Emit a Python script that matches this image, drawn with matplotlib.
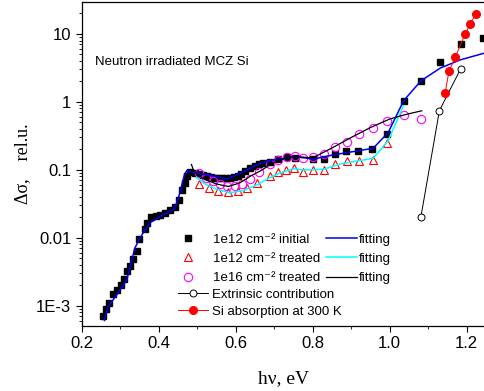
# Photoconductivity spectra of neutron irradiated MCZ Si with fits, extrinsic part and Si absorption
import numpy as np
import matplotlib; matplotlib.use("Agg")
import matplotlib.pyplot as plt
from matplotlib.lines import Line2D
from matplotlib.ticker import FixedLocator, LogLocator, NullFormatter, MultipleLocator

plt.rcParams["font.family"] = ["Liberation Sans", "DejaVu Sans"]

# 1e12 cm-2 initial (squares) and its fit
init_x = [0.256, 0.263, 0.271, 0.282, 0.292, 0.301, 0.310, 0.317, 0.325, 0.334, 0.344, 0.350,
          0.365, 0.369, 0.381, 0.393, 0.403, 0.416, 0.429, 0.442, 0.452, 0.460, 0.468, 0.473,
          0.481, 0.495, 0.505, 0.515, 0.525, 0.535, 0.545, 0.555, 0.565, 0.575, 0.585, 0.595,
          0.605, 0.615, 0.625, 0.637, 0.650, 0.660, 0.672, 0.689, 0.711, 0.732, 0.754, 0.802,
          0.828, 0.858, 0.886, 0.918, 0.953, 0.994, 1.036, 1.081, 1.131, 1.184, 1.242]
init_y = [7.2e-4, 8.9e-4, 1.1e-3, 1.5e-3, 1.7e-3, 2.0e-3, 2.5e-3, 3.2e-3, 3.9e-3, 4.9e-3, 6.5e-3, 9.5e-3,
          0.0135, 0.0165, 0.020, 0.0213, 0.0218, 0.0235, 0.026, 0.028, 0.036, 0.051, 0.064, 0.080,
          0.093, 0.090, 0.087, 0.084, 0.081, 0.079, 0.077, 0.076, 0.075, 0.075, 0.076, 0.078,
          0.082, 0.088, 0.096, 0.108, 0.115, 0.120, 0.126, 0.131, 0.144, 0.155, 0.148, 0.144,
          0.144, 0.170, 0.190, 0.190, 0.200, 0.335, 1.04, 2.04, 3.84, 7.2, 8.8]
fit_init_x = [0.259, 0.269, 0.291, 0.317, 0.325, 0.338, 0.356, 0.377, 0.403, 0.441, 0.451, 0.460,
              0.467, 0.473, 0.480, 0.490, 0.516, 0.550, 0.576, 0.611, 0.655, 0.689, 0.715, 0.748,
              0.802, 0.853, 0.957, 0.996, 1.036, 1.081, 1.131, 1.183, 1.250]
fit_init_y = [6.1e-4, 9.8e-4, 1.45e-3, 2.4e-3, 3.6e-3, 7.1e-3, 0.011, 0.0166, 0.0206, 0.0267, 0.0384, 0.060,
              0.085, 0.098, 0.095, 0.091, 0.086, 0.080, 0.073, 0.089, 0.119, 0.137, 0.143, 0.158,
              0.144, 0.166, 0.208, 0.354, 1.04, 2.04, 3.14, 4.15, 5.3]

# 1e12 cm-2 treated (triangles) and its fit
trt12_x = [0.505, 0.530, 0.555, 0.580, 0.605, 0.630, 0.655, 0.689, 0.711, 0.731, 0.752, 0.776,
           0.802, 0.828, 0.858, 0.888, 0.921, 0.956, 0.994]
trt12_y = [0.062, 0.054, 0.049, 0.047, 0.049, 0.055, 0.064, 0.080, 0.094, 0.100, 0.106, 0.094,
           0.100, 0.100, 0.120, 0.135, 0.136, 0.140, 0.245]
fit12_x = [0.498, 0.520, 0.550, 0.585, 0.620, 0.655, 0.685, 0.715, 0.750, 0.776, 0.828, 0.871,
           0.957, 0.996, 1.035]
fit12_y = [0.078, 0.062, 0.052, 0.046, 0.050, 0.060, 0.075, 0.090, 0.104, 0.100, 0.102, 0.122,
           0.148, 0.270, 0.870]

# 1e16 cm-2 treated (circles) and its fit
trt16_x = [0.505, 0.522, 0.540, 0.558, 0.577, 0.597, 0.617, 0.637, 0.660, 0.689, 0.711, 0.732,
           0.754, 0.776, 0.802, 0.828, 0.858, 0.888, 0.921, 0.956, 0.994, 1.036, 1.081]
trt16_y = [0.090, 0.077, 0.068, 0.061, 0.057, 0.057, 0.063, 0.074, 0.093, 0.120, 0.138, 0.155,
           0.162, 0.149, 0.157, 0.172, 0.220, 0.260, 0.335, 0.420, 0.530, 0.640, 0.560]
fit16_x = [0.485, 0.490, 0.500, 0.520, 0.550, 0.580, 0.610, 0.640, 0.665, 0.690, 0.710, 0.750,
           0.800, 0.850, 0.900, 0.950, 1.000, 1.040, 1.083]
fit16_y = [0.120, 0.100, 0.085, 0.072, 0.062, 0.057, 0.064, 0.082, 0.097, 0.120, 0.138, 0.158,
           0.150, 0.210, 0.300, 0.420, 0.560, 0.650, 0.740]

# extrinsic contribution and Si absorption at 300 K
ext_x = [1.081, 1.129, 1.184]
ext_y = [0.0204, 0.745, 3.05]
si_x = [1.144, 1.154, 1.170, 1.196, 1.209, 1.224]
si_y = [1.37, 2.86, 4.54, 10.0, 14.0, 19.7]

ytick_vals = [1e-3, 1e-2, 1e-1, 1, 10]
ytick_labels = ["1E-3", "0.01", "0.1", "1", "10"]

fig = plt.figure(figsize=(4.84, 3.91), dpi=100)
ax = fig.add_axes([81.7/484, 1-325.7/391, 404.3/484, 323.7/391])

sq = dict(ls="none", marker="s", ms=5, color="black")
tri = dict(ls="none", marker="^", ms=6, mfc="none", mec="red", mew=0.8)
circ = dict(ls="none", marker="o", ms=6, mfc="none", mec="magenta", mew=0.8)
ext = dict(color="black", lw=0.7, marker="o", ms=5, mfc="white", mec="black", mew=0.7)
si = dict(color="red", lw=0.7, marker="o", ms=5.5, mfc="red", mec="red")

ax.plot(init_x, init_y, zorder=3, **sq)
ax.plot(trt12_x, trt12_y, zorder=3, **tri)
ax.plot(trt16_x, trt16_y, zorder=3, **circ)
ax.plot(fit_init_x, fit_init_y, color="#0000ee", lw=1.1, zorder=4)
ax.plot(fit12_x, fit12_y, color="cyan", lw=1.1, zorder=4)
ax.plot(fit16_x, fit16_y, color="black", lw=0.9, zorder=4)
ax.plot(ext_x, ext_y, zorder=5, **ext)
ax.plot(si_x, si_y, zorder=5, **si)

ax.set_yscale("log")
ax.set_xlim(0.2, 1.25)
ax.set_ylim(5.1e-4, 29.5)
ax.yaxis.set_major_locator(FixedLocator(ytick_vals))
ax.set_yticklabels(ytick_labels)
ax.yaxis.set_minor_locator(LogLocator(base=10, subs=np.arange(2, 10)))
ax.yaxis.set_minor_formatter(NullFormatter())
ax.xaxis.set_major_locator(MultipleLocator(0.2))
ax.xaxis.set_minor_locator(MultipleLocator(0.1))
ax.tick_params(which="major", direction="out", length=4, width=0.8, labelsize=12, top=False, right=False)
ax.tick_params(which="minor", direction="out", length=2.3, width=0.6, top=False, right=False)
for s in ax.spines.values(): s.set_linewidth(0.9)

ax.set_xlabel("h\u03bd, eV", family="Liberation Serif", fontsize=14, labelpad=14)
ax.set_ylabel("\u0394\u03c3,    rel.u.", family="Liberation Serif", fontsize=13, labelpad=4)

ax.text(0.033, 0.815, "Neutron irradiated MCZ Si", transform=ax.transAxes, fontsize=9.5, va="center")

# Origin-style legend: marker column, fitting column, two full-width rows
common = dict(frameon=False, fontsize=9.5, loc="upper left", borderpad=0, borderaxespad=0)
legA = ax.legend([Line2D([], [], **sq), Line2D([], [], **tri), Line2D([], [], **circ)],
                 ["1e12 cm\u207b\u00b2 initial", "1e12 cm\u207b\u00b2 treated", "1e16 cm\u207b\u00b2 treated"],
                 bbox_to_anchor=(0.247, 0.285), handlelength=1.0, handletextpad=1.4,
                 labelspacing=0.54, **common)
ax.add_artist(legA)
legB = ax.legend([Line2D([], [], color="#0000ee", lw=1.1), Line2D([], [], color="cyan", lw=1.1),
                  Line2D([], [], color="black", lw=0.9)],
                 ["fitting", "fitting", "fitting"],
                 bbox_to_anchor=(0.6035, 0.285), handlelength=2.35, handletextpad=0.15,
                 labelspacing=0.54, **common)
ax.add_artist(legB)
ax.legend([Line2D([], [], **ext), Line2D([], [], **si)],
          ["Extrinsic contribution", "Si absorption at 300 K"],
          bbox_to_anchor=(0.238, 0.115), handlelength=2.27, handletextpad=0.3,
          labelspacing=0.35, **common)

plt.savefig("out.png", dpi=100)
